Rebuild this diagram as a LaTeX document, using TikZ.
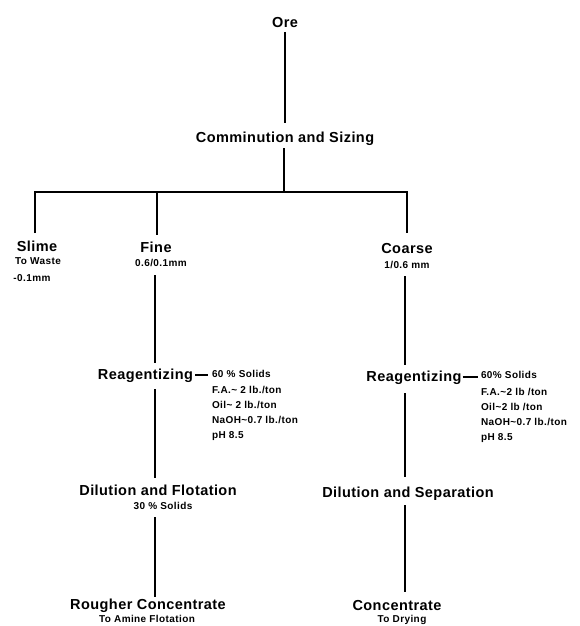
\documentclass[tikz,border=0pt]{standalone}
\usepackage{fontspec}
\setmainfont{Liberation Sans}
\newfontfamily\labfont{Liberation Sans}[LetterSpace=3]
\newfontfamily\smfont{Liberation Sans}[LetterSpace=4]
\tikzset{
 main/.style={font=\labfont\bfseries\fontsize{14.5}{17}\selectfont, inner sep=0pt, outer sep=0pt, text height=10.5pt, text depth=3pt, anchor=base},
 small/.style={font=\smfont\bfseries\fontsize{10}{12}\selectfont, inner sep=0pt, outer sep=0pt, text height=7.5pt, text depth=2.5pt, anchor=base},
 datum/.style={small, anchor=base west},
 flow/.style={line width=2pt, line join=miter},
}
\begin{document}
\begin{tikzpicture}[x=1pt,y=-1pt]
\useasboundingbox (0,0) rectangle (579,626);
% nodes
\node[main] (ore) at (285,28) {Ore};
\node[main] (comm) at (285,142) {Comminution and Sizing};
\node[main] (slime) at (37,251) {Slime};
\node[small] (slimesubA) at (38,264.5) {To Waste};
\node[small] (slimesubB) at (32,281.5) {-0.1mm};
\node[main] (fine) at (156,252) {Fine};
\node[small] (finesub) at (161,266.5) {0.6/0.1mm};
\node[main] (coarse) at (407,253) {Coarse};
\node[small] (coarsesub) at (407,268.5) {1/0.6 mm};
\node[main] (reagL) at (145.5,379) {Reagentizing};
\node[main] (reagR) at (414,381) {Reagentizing};
\node[datum] (dlA) at (212,377.5) {60 \% Solids};
\node[datum] (dlB) at (212,393.5) {F.A.\textasciitilde\ 2 lb./ton};
\node[datum] (dlC) at (212,408.5) {Oil\textasciitilde\ 2 lb./ton};
\node[datum] (dlD) at (212,423.5) {NaOH\textasciitilde 0.7 lb./ton};
\node[datum] (dlE) at (212,438.5) {pH 8.5};
\node[datum] (drA) at (481,378.5) {60\% Solids};
\node[datum] (drB) at (481,395.5) {F.A.\textasciitilde 2 lb /ton};
\node[datum] (drC) at (481,410.5) {Oil\textasciitilde 2 lb /ton};
\node[datum] (drD) at (481,425.5) {NaOH\textasciitilde 0.7 lb./ton};
\node[datum] (drE) at (481,440.5) {pH 8.5};
\node[main] (dilL) at (158,495) {Dilution and Flotation};
\node[small] (dilLsub) at (163,509.5) {30 \% Solids};
\node[main] (rough) at (148,609) {Rougher Concentrate};
\node[small] (roughsub) at (147,622.5) {To Amine Flotation};
\node[main] (dilR) at (408,497) {Dilution and Separation};
\node[main] (conc) at (397,610) {Concentrate};
\node[small] (concsub) at (402,622.5) {To Drying};
% helper coordinates
\coordinate (j) at (284,192);
\coordinate (xs) at (35,0);
\coordinate (xf) at (157,0);
\coordinate (xc) at (407,0);
\coordinate (lx) at (154.5,0);
\coordinate (rx) at (405,0);
% connectors
\draw[flow, shorten <=1pt, shorten >=8.5pt] (ore.south) -- (ore.south |- comm.north);
\draw[flow, shorten <=3pt] (j |- comm.south) -- (j);
\draw[flow, shorten <=7.5pt, shorten >=9.5pt] (xs |- slime.north) |- (xc |- j) -- (xc |- coarse.north);
\draw[flow, shorten >=6.5pt] (xf |- j) -- (xf |- fine.north);
\draw[flow, shorten <=6pt, shorten >=5.5pt] (lx |- finesub.south) -- (lx |- reagL.north);
\draw[flow, shorten <=7pt, shorten >=6.5pt] (lx |- reagL.south) -- (lx |- dilL.north);
\draw[flow, shorten <=5pt, shorten >=2pt] (lx |- dilLsub.south) -- (lx |- rough.north);
\draw[flow, shorten <=5pt, shorten >=5.5pt] (rx |- coarsesub.south) -- (rx |- reagR.north);
\draw[flow, shorten <=9pt, shorten >=9.5pt] (rx |- reagR.south) -- (rx |- dilR.north);
\draw[flow, shorten <=5pt, shorten >=7.5pt] (rx |- dilR.south) -- (rx |- conc.north);
\draw[flow, shorten <=2pt, shorten >=4pt] (reagL.east) -- (dlA.west |- reagL.east);
\draw[flow, shorten <=1pt, shorten >=3pt] (reagR.east) -- (drA.west |- reagR.east);
\end{tikzpicture}
\end{document}
